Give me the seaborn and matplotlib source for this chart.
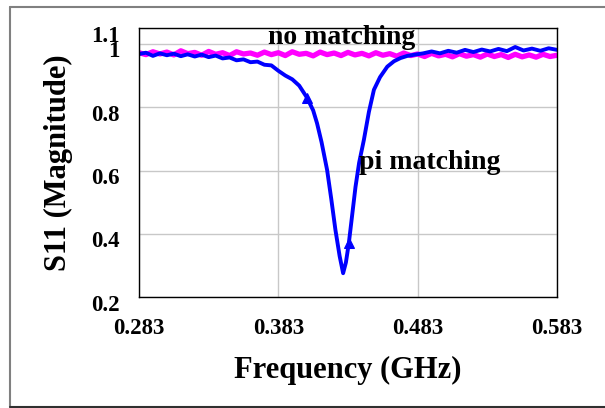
import matplotlib
matplotlib.use("Agg")
import matplotlib.pyplot as plt
import matplotlib.transforms as mtransforms
from matplotlib.lines import Line2D
import pandas as pd
import seaborn as sns

# ---- data ----
freq_no_match = [0.283, 0.288, 0.293, 0.298, 0.303, 0.308, 0.313, 0.318, 0.323, 0.328,
                 0.333, 0.338, 0.343, 0.348, 0.353, 0.358, 0.363, 0.368, 0.373, 0.378,
                 0.383, 0.388, 0.393, 0.398, 0.403, 0.408, 0.413, 0.418, 0.423, 0.428,
                 0.433, 0.438, 0.443, 0.448, 0.453, 0.458, 0.463, 0.468, 0.473, 0.478,
                 0.483, 0.488, 0.493, 0.498, 0.503, 0.508, 0.513, 0.518, 0.523, 0.528,
                 0.533, 0.538, 0.543, 0.548, 0.553, 0.558, 0.563, 0.568, 0.573, 0.578,
                 0.583]
s11_no_match = [0.972, 0.966, 0.975, 0.968, 0.974, 0.965, 0.978, 0.969, 0.973, 0.964,
                0.976, 0.967, 0.972, 0.963, 0.975, 0.968, 0.971, 0.964, 0.974, 0.966,
                0.972, 0.963, 0.975, 0.967, 0.970, 0.962, 0.974, 0.966, 0.971, 0.963,
                0.973, 0.965, 0.970, 0.962, 0.972, 0.964, 0.969, 0.961, 0.971, 0.963,
                0.968, 0.960, 0.970, 0.962, 0.967, 0.959, 0.969, 0.961, 0.966, 0.958,
                0.968, 0.960, 0.966, 0.957, 0.967, 0.959, 0.965, 0.958, 0.967, 0.960,
                0.964]

freq_pi_match = [0.283, 0.288, 0.293, 0.298, 0.303, 0.308, 0.313, 0.318, 0.323, 0.328,
                 0.333, 0.338, 0.343, 0.348, 0.353, 0.358, 0.363, 0.368, 0.373, 0.378,
                 0.383, 0.388, 0.393, 0.398, 0.4036, 0.408, 0.4108, 0.414, 0.418, 0.421,
                 0.424, 0.427, 0.4295, 0.4315, 0.4336, 0.436, 0.4384, 0.441, 0.4444, 0.448,
                 0.4516, 0.456, 0.4612, 0.466, 0.4706, 0.4756, 0.481, 0.487, 0.493, 0.499,
                 0.505, 0.511, 0.517, 0.523, 0.529, 0.535, 0.541, 0.547, 0.553, 0.559,
                 0.565, 0.571, 0.577, 0.583]
s11_pi_match = [0.968, 0.972, 0.962, 0.970, 0.964, 0.969, 0.961, 0.967, 0.960, 0.966,
                0.958, 0.963, 0.954, 0.957, 0.948, 0.951, 0.942, 0.944, 0.934, 0.932,
                0.915, 0.900, 0.888, 0.868, 0.830, 0.790, 0.749, 0.690, 0.602, 0.510,
                0.412, 0.330, 0.276, 0.310, 0.371, 0.460, 0.549, 0.625, 0.697, 0.785,
                0.855, 0.895, 0.928, 0.945, 0.955, 0.962, 0.966, 0.970, 0.976, 0.970,
                0.978, 0.972, 0.981, 0.974, 0.982, 0.976, 0.984, 0.977, 0.990, 0.979,
                0.985, 0.978, 0.986, 0.981]
pi_marker_idx = [24, 34]

x_ticks = [0.283, 0.383, 0.483, 0.583]
y_ticks = [0.2, 0.4, 0.6, 0.8, 1.0, 1.05]
y_tick_labels = ["0.2", "0.4", "0.6", "0.8", "1", "1.1"]

df_no = pd.DataFrame({"freq": freq_no_match, "s11": s11_no_match})
df_pi = pd.DataFrame({"freq": freq_pi_match, "s11": s11_pi_match})

sns.set_style("whitegrid")
plt.rcParams["font.family"] = ["Liberation Serif", "DejaVu Serif"]
plt.rcParams["font.weight"] = "bold"
for key in ["text.color", "axes.labelcolor", "xtick.color", "ytick.color"]:
    plt.rcParams[key] = "black"

fig = plt.figure(figsize=(6.05, 4.08), dpi=100)
ax = fig.add_axes([139 / 605, 1 - 297.3 / 408, 418 / 605, 269.3 / 408])

sns.lineplot(data=df_no, x="freq", y="s11", ax=ax, color="#FF00FF", linewidth=3.8)
sns.lineplot(data=df_pi, x="freq", y="s11", ax=ax, color="#0000FF", linewidth=2.8,
             marker="^", markevery=pi_marker_idx, markersize=7, markeredgecolor="#0000FF")

ax.set_xlim(0.283, 0.583)
ax.set_ylim(0.2, 1.05)
ax.set_xticks(x_ticks)
ax.set_xticklabels([f"{v:.3f}" for v in x_ticks])
ax.set_yticks(y_ticks)
ax.set_yticklabels(y_tick_labels)
ax.tick_params(axis="x", length=0, pad=15, labelsize=16.5)
ax.tick_params(axis="y", length=0, pad=14, labelsize=16.5)
shift = mtransforms.ScaledTranslation(0, -4 / 72, fig.dpi_scale_trans)
for lab in ax.get_yticklabels():
    lab.set_transform(lab.get_transform() + shift)

ax.grid(True, color="#c8c8c8", linewidth=1.0)
for sp in ax.spines.values():
    sp.set_color("black")
    sp.set_linewidth(1.0)

ax.set_xlabel("Frequency (GHz)", fontsize=22, fontweight="bold", labelpad=12)
ax.set_ylabel("S11 (Magnitude)", fontsize=22, fontweight="bold", labelpad=13)

ax.text(0.4282, 1.019, "no matching", fontsize=20, fontweight="bold",
        ha="center", va="center", zorder=5)
ax.text(0.4406, 0.624, "pi matching", fontsize=20, fontweight="bold",
        ha="left", va="center", zorder=5)

# outer frame around the chart
fig.add_artist(Line2D([9.5 / 605, 9.5 / 605], [1 / 408, 401.5 / 408], color="#808080", linewidth=1.5))
fig.add_artist(Line2D([9.5 / 605, 1.0], [401.5 / 408, 401.5 / 408], color="#808080", linewidth=1.5))
fig.add_artist(Line2D([9.5 / 605, 1.0], [1 / 408, 1 / 408], color="#303030", linewidth=1.5))

fig.savefig("out.png", dpi=100)
